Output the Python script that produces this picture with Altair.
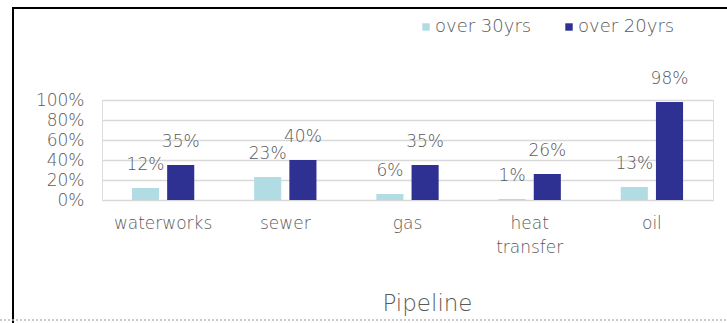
import altair as alt
import pandas as pd

categories = ["waterworks", "sewer", "gas", "heat transfer", "oil"]
series = ["over 30yrs", "over 20yrs"]
over_30yrs = [12, 23, 6, 1, 13]
over_20yrs = [35, 40, 35, 26, 98]
colors = ["#b1dce4", "#2e3192"]

rows = []
for c, a, b in zip(categories, over_30yrs, over_20yrs):
    rows.append({"category": c, "series": series[0], "value": a, "label": f"{a}%"})
    rows.append({"category": c, "series": series[1], "value": b, "label": f"{b}%"})
df = pd.DataFrame(rows)

FONT = "DejaVu Sans"
WEIGHT = 200
GREY = "#595959"

base = alt.Chart(df).encode(
    x=alt.X(
        "category:N",
        sort=categories,
        scale=alt.Scale(paddingInner=0.49, paddingOuter=0.245),
        axis=alt.Axis(
            title="Pipeline",
            labelAngle=0,
            labelFontSize=17,
            labelColor=GREY,
            labelFont=FONT,
            labelFontWeight=WEIGHT,
            labelPadding=15,
            labelLineHeight=24,
            labelExpr="datum.label == 'heat transfer' ? ['heat', 'transfer'] : datum.label",
            domain=False,
            ticks=False,
            titleFontSize=23,
            titleFont=FONT,
            titleFontWeight=WEIGHT,
            titleColor=GREY,
            titleX=325,
            titleY=110,
            titleBaseline="alphabetic",
        ),
    ),
    xOffset=alt.XOffset("series:N", sort=series, scale=alt.Scale(paddingInner=0.23, paddingOuter=0)),
    y=alt.Y(
        "value:Q",
        scale=alt.Scale(domain=[0, 100]),
        axis=alt.Axis(
            title=None,
            values=[0, 20, 40, 60, 80, 100],
            labelExpr="datum.value + '%'",
            labelFontSize=17,
            labelColor=GREY,
            labelFont=FONT,
            labelFontWeight=WEIGHT,
            labelPadding=18,
            domain=False,
            ticks=False,
            gridColor="#d9d9d9",
            gridWidth=1.5,
        ),
    ),
)

bars = base.mark_bar().encode(
    color=alt.Color(
        "series:N",
        sort=series,
        scale=alt.Scale(domain=series, range=colors),
        legend=alt.Legend(
            title=None,
            orient="none",
            legendX=315,
            legendY=-82,
            direction="horizontal",
            symbolType="square",
            symbolSize=55,
            symbolStrokeWidth=0,
            labelFontSize=18,
            labelFont=FONT,
            labelFontWeight=WEIGHT,
            labelColor=GREY,
            labelOffset=0,
            columnPadding=28,
            labelLimit=300,
        ),
    )
)

labels = base.mark_text(
    dy=-14, baseline="bottom", fontSize=17, font=FONT, fontWeight=WEIGHT, color=GREY
).encode(text="label:N")

one = pd.DataFrame({"d": [0]})
left_border = alt.Chart(one).mark_rule(color="black", strokeWidth=2).encode(
    x=alt.value(-89), y=alt.value(-93), y2=alt.value(223)
)
top_border = alt.Chart(one).mark_rule(color="black", strokeWidth=2).encode(
    x=alt.value(-90), x2=alt.value(625), y=alt.value(-92)
)
bottom_dots = alt.Chart(one).mark_rule(color="#bbbbbb", strokeWidth=1.5, strokeDash=[2, 2]).encode(
    x=alt.value(-102), x2=alt.value(625), y=alt.value(220)
)

chart = (
    alt.layer(bars, labels, left_border, top_border, bottom_dots)
    .properties(
        width=611,
        height=100,
        autosize=alt.AutoSizeParams(type="none"),
        padding={"left": 102, "top": 100, "right": 14, "bottom": 123},
    )
    .configure_view(stroke=None)
    .configure(background="white")
)

chart.save("out.html", embed_options={"renderer": "svg", "actions": False})
